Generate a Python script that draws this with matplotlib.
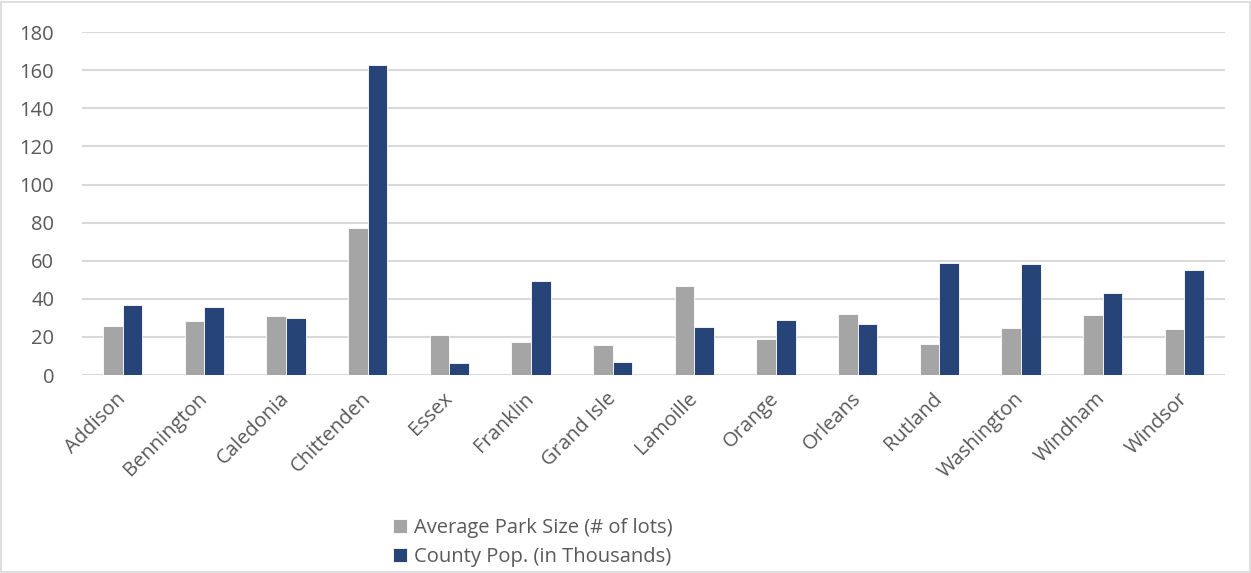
import matplotlib.pyplot as plt
import numpy as np

plt.rcParams['font.family'] = ['Open Sans', 'DejaVu Sans']

counties = ['Addison', 'Bennington', 'Caledonia', 'Chittenden', 'Essex', 'Franklin',
            'Grand Isle', 'Lamoille', 'Orange', 'Orleans', 'Rutland', 'Washington',
            'Windham', 'Windsor']
park_size = [25.7, 28.2, 31.0, 77.1, 21.0, 17.3, 15.7, 46.7, 18.7, 32.0, 16.1, 24.7, 31.3, 24.3]
county_pop = [36.9, 35.7, 30.1, 162.5, 6.1, 49.2, 7.0, 25.4, 28.9, 26.8, 58.8, 58.4, 42.9, 55.3]

txt = '#595959'
fig = plt.figure(figsize=(12.51, 5.73), dpi=100)
ax = fig.add_axes([0.0655, 0.3455, 0.9138, 0.5985])

x = np.arange(len(counties))
w = 0.24
ax.bar(x - w/2, park_size, w, color='#A5A5A5', edgecolor='white', linewidth=0.6,
       label='Average Park Size (# of lots)', zorder=3)
ax.bar(x + w/2, county_pop, w, color='#264478', edgecolor='white', linewidth=0.6,
       label='County Pop. (in Thousands)', zorder=3)

ax.set_xlim(-0.5, len(counties) - 0.5)
ax.set_ylim(0, 180)
ax.set_yticks(range(0, 181, 20))
ax.yaxis.grid(True, color='#D9D9D9', linewidth=1.5, zorder=0)
for s in ax.spines.values():
    s.set_visible(False)
ax.tick_params(axis='both', length=0, labelsize=14.5, labelcolor=txt)
ax.tick_params(axis='y', pad=20)
ax.set_xticks(x)
ax.set_xticklabels(counties, rotation=45, ha='right', va='center', rotation_mode='anchor')
ax.tick_params(axis='x', pad=15)

leg = fig.legend(loc='upper left', bbox_to_anchor=(0.306, 0.113), frameon=False,
                 fontsize=14.5, labelcolor=txt, handlelength=0.7, handleheight=0.7,
                 handletextpad=0.35, labelspacing=0.42, borderpad=0)

fig.patches.append(plt.Rectangle((0.001, 0.001), 0.998, 0.996, transform=fig.transFigure,
                                 fill=False, edgecolor='#D9D9D9', linewidth=1.2))

fig.savefig('out.png', dpi=100)
